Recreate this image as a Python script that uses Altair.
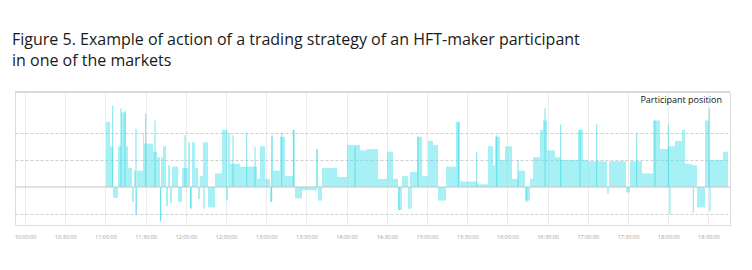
import altair as alt
import pandas as pd

DAY = "2020-01-01T"

# Step segments of the participant position: start time and position level
seg_start = [
    "11:00:27", "11:03:26", "11:05:40", "11:09:25", "11:11:38", "11:15:23", "11:16:52", "11:19:51",
    "11:21:21", "11:22:50", "11:23:35", "11:28:04", "11:28:49", "11:35:32", "11:38:31", "11:40:45",
    "11:41:30", "11:42:59", "11:45:14", "11:46:43", "11:48:13", "11:49:42", "11:54:11", "11:57:10",
    "12:01:39", "12:03:08", "12:04:38", "12:06:52", "12:09:07", "12:10:36", "12:12:50", "12:16:34",
    "12:21:48", "12:27:01", "12:30:01", "12:31:30", "12:32:59", "12:40:27", "12:47:55", "12:53:08",
    "12:55:23", "12:59:07", "13:02:50", "13:04:20", "13:05:05", "13:10:18", "13:14:02", "13:20:01",
    "13:21:30", "13:26:44", "13:37:55", "13:38:40", "13:41:39", "13:52:51", "14:00:19", "14:10:01",
    "14:15:14", "14:23:26", "14:30:10", "14:34:38", "14:38:22", "14:41:21", "14:45:50", "14:47:20",
    "14:52:33", "14:56:17", "15:00:46", "15:04:29", "15:08:13", "15:14:11", "15:21:39", "15:24:39",
    "15:37:20", "15:45:32", "15:49:16", "15:50:46", "15:54:30", "15:58:13", "16:03:27", "16:07:56",
    "16:13:09", "16:16:53", "16:19:07", "16:24:21", "16:26:35", "16:29:34", "16:35:32", "16:39:16",
    "16:52:42", "16:56:26", "17:00:10", "17:06:53", "17:14:21", "17:15:50", "17:28:32", "17:31:31",
    "17:40:28", "17:48:41", "17:53:54", "17:59:52", "18:05:06", "18:10:19", "18:12:34", "18:17:47",
    "18:21:31", "18:27:29", "18:30:28", "18:36:26", "18:40:55",
]
seg_end_last = "18:44:38"
seg_value = [
    2.4, 1.5, -0.4, 1.5, 2.75, 1.5, 0.7, -0.55,
    0.6, -1.0, 0.6, 2.0, 1.6, 1.3, 1.1, -1.25,
    1.1, 1.5, -0.7, 0.8, -0.6, 0.75, -0.55, 0.7,
    1.65, -0.8, 1.65, 0.7, -0.45, 0.4, 1.65, -0.75,
    0.5, 2.1, -0.5, 2.0, 0.85, 0.75, 0.75, 0.3,
    1.5, 0.3, -0.55, 1.9, 0.6, 1.85, 0.4, 2.1,
    -0.42, -0.12, 1.4, -0.5, 0.7, 0.37, 1.55, 1.35,
    1.4, 0.3, 1.3, 0.3, -0.85, 0.4, -0.8, 0.55,
    1.85, 0.4, 1.7, 1.55, -0.5, 0.75, 2.4, 0.2,
    0.1, 1.5, 0.8, 1.85, 1.0, 1.5, 0.3, 0.6,
    -0.5, 0.3, 1.1, 2.1, 2.45, 1.35, 1.1, 1.0,
    2.1, 1.0, 0.95, 0.95, -0.25, 0.95, -0.2, 0.95,
    0.5, 2.45, 1.4, 1.5, 1.7, 2.1, 0.85, 0.8,
    -0.75, 2.45, 1.0, 1.0, 1.3,
]

# Short-lived position spikes
spike_time = [
    "11:05:27", "11:11:38", "11:14:38", "11:22:50", "11:22:50", "11:30:05", "11:37:01", "11:41:16",
    "11:59:25", "12:03:40", "12:13:35", "12:30:32", "12:35:14", "12:45:28", "12:51:39", "13:04:07",
    "13:04:07", "13:11:34", "13:20:14", "13:37:41", "14:06:17", "14:39:07", "14:48:04", "14:53:18",
    "15:23:22", "15:37:06", "15:52:01", "16:07:56", "16:14:25", "16:28:05", "16:39:47", "16:54:12",
    "17:06:40", "17:36:31", "17:50:10", "18:00:06", "18:01:22", "18:18:44", "18:30:41", "18:31:13",
]
spike_value = [
    3.0, 2.9, 2.8, 2.15, -1.03, 2.7, 2.45, -1.27,
    1.9, -0.78, -0.8, 2.1, 1.9, 2.0, 1.48, 1.9,
    -0.55, 2.0, 2.1, 1.4, 1.5, -0.85, -0.8, 1.85,
    2.4, 1.3, 1.9, 1.0, -0.55, 2.9, 2.3, 2.1,
    2.3, 2.0, 2.45, 2.3, -1.0, -0.95, 2.9, -0.9,
]

tick_times = [
    "10:00:00", "10:30:00", "11:00:00", "11:30:00", "12:00:00", "12:30:00", "13:00:00", "13:30:00",
    "14:00:00", "14:30:00", "15:00:00", "15:30:00", "16:00:00", "16:30:00", "17:00:00", "17:30:00",
    "18:00:00", "18:30:00",
]
grid_levels = [-1, 1, 2]
y_domain = [-1.4, 3.5]
x_domain = ["09:52:32", "18:46:08"]

title_lines = [
    "Figure 5. Example of action of a trading strategy of an HFT-maker participant",
    "in one of the markets",
]
legend_text = "Participant position"


def dt(s):
    h, m, sec = (int(v) for v in s.split(":"))
    return alt.DateTime(year=2020, month=1, date=1, hours=h, minutes=m, seconds=sec)


seg_end = seg_start[1:] + [seg_end_last]
seg_df = pd.DataFrame({
    "t0": [DAY + s for s in seg_start],
    "t1": [DAY + s for s in seg_end],
    "v": seg_value,
})
spike_df = pd.DataFrame({"t": [DAY + s for s in spike_time], "v": spike_value})

W, H = 715, 133

x_scale = alt.Scale(domain=[dt(x_domain[0]), dt(x_domain[1])])
y_scale = alt.Scale(domain=y_domain, nice=False, zero=False)

x_axis = alt.Axis(
    values=[dt(t) for t in tick_times], format="%H:%M:%S", title=None,
    labelFontSize=5.5, labelColor="#a0a0a0", labelFont="Open Sans", labelPadding=9,
    domain=False, ticks=False, grid=True, gridColor="#ececec", gridWidth=1,
)
y_axis = alt.Axis(
    values=grid_levels, labels=False, ticks=False, domain=False, title=None,
    grid=True, gridColor="#cfcfcf", gridDash=[3, 2], gridWidth=1,
)

bars = alt.Chart(seg_df).mark_rect(color="#5fe6ee", opacity=0.55).encode(
    x=alt.X("t0:T", scale=x_scale, axis=x_axis),
    x2="t1:T",
    y=alt.Y("v:Q", scale=y_scale, axis=y_axis),
    y2=alt.datum(0),
)

spikes = alt.Chart(spike_df).mark_rule(color="#3fd9e3", opacity=0.7, strokeWidth=1).encode(
    x=alt.X("t:T", scale=x_scale),
    y=alt.Y("v:Q", scale=y_scale),
    y2=alt.datum(0),
)

zero_line = alt.Chart(pd.DataFrame({"y": [0]})).mark_rule(color="#c4c4c4", strokeWidth=1).encode(
    y=alt.Y("y:Q", scale=y_scale)
)
top_line = alt.Chart(pd.DataFrame({"y": [y_domain[1]]})).mark_rule(color="#dadada", strokeWidth=2).encode(
    y=alt.Y("y:Q", scale=y_scale)
)

legend = alt.Chart(pd.DataFrame({"label": [legend_text]})).mark_text(
    align="right", baseline="alphabetic", fontSize=9, font="Open Sans", color="#111111"
).encode(x=alt.value(W - 8), y=alt.value(11), text="label:N")

chart = alt.layer(top_line, bars, spikes, zero_line, legend).properties(
    width=W, height=H,
    title=alt.Title(
        title_lines, anchor="start", frame="group", dx=-3, offset=22,
        fontSize=16, font="Open Sans", fontWeight="normal", color="#1a1a1a", lineHeight=21,
    ),
).configure_view(stroke=None).configure(
    autosize=alt.AutoSizeParams(type="none"),
    padding={"left": 15, "top": 92, "right": 22, "bottom": 45},
)

chart.save("out.html", embed_options={"renderer": "svg", "actions": False})
